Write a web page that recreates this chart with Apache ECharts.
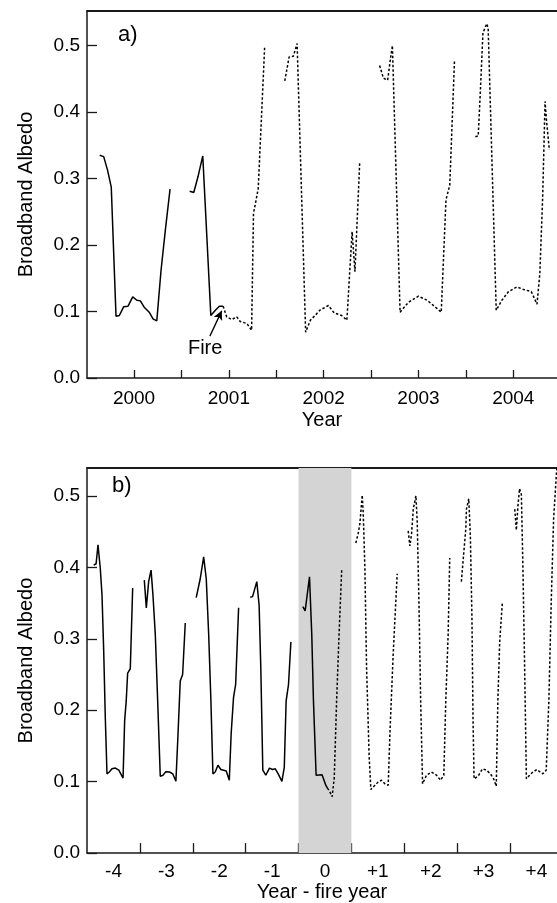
<!DOCTYPE html>
<html>
<head>
<meta charset="utf-8">
<script src="https://cdn.jsdelivr.net/npm/echarts@6/dist/echarts.min.js"></script>
<style>
html,body{margin:0;padding:0;background:#fff;}
#chart{width:557px;height:903px;}
</style>
</head>
<body>
<div id="chart"></div>
<script>
// ---------- Panel a) : albedo vs. year ----------
const aSolidYear = [1999.638,1999.68,1999.72,1999.76,1999.81,1999.845,1999.89,1999.937,1999.986,2000.03,2000.067,2000.11,2000.16,2000.2,2000.24,2000.285,2000.33,2000.38,null,
  2000.587,2000.63,2000.675,2000.725,2000.81,2000.858,2000.90,2000.94];
const aSolidAlbedo = [0.335,0.333,0.313,0.287,0.093,0.094,0.107,0.108,0.122,0.117,0.116,0.106,0.099,0.089,0.086,0.162,0.222,0.284,null,
  0.281,0.279,0.303,0.334,0.094,0.102,0.108,0.108];
const aDottedYear = [2000.94,2000.977,2001.03,2001.083,2001.12,2001.19,2001.24,2001.26,2001.28,2001.31,2001.378,null,
  2001.59,2001.636,2001.68,2001.72,2001.81,2001.86,2001.91,2001.96,2002.05,2002.11,2002.19,2002.245,2002.30,2002.33,2002.38,null,
  2002.59,2002.63,2002.675,2002.71,2002.725,2002.806,2002.895,2003.0,2003.09,2003.175,2003.24,2003.29,2003.33,2003.38,null,
  2003.60,2003.63,2003.65,2003.68,2003.72,2003.735,2003.82,2003.88,2003.95,2004.04,2004.11,2004.19,2004.25,2004.28,2004.31,2004.335,2004.35,2004.38];
const aDottedAlbedo = [0.108,0.092,0.088,0.092,0.085,0.082,0.072,0.248,0.262,0.285,0.499,null,
  0.447,0.483,0.484,0.503,0.069,0.087,0.094,0.102,0.109,0.098,0.094,0.087,0.220,0.160,0.324,null,
  0.470,0.451,0.448,0.486,0.500,0.099,0.114,0.123,0.117,0.107,0.099,0.268,0.290,0.478,null,
  0.363,0.364,0.423,0.519,0.533,0.526,0.102,0.117,0.130,0.137,0.133,0.130,0.111,0.157,0.273,0.416,0.388,0.343];
const aYearTickLabels = [2000,2001,2002,2003,2004];
const aYearTicks = [2000,2000.5,2001,2001.5,2002,2002.5,2003,2003.5,2004];

// ---------- Panel b) : albedo vs. year - fire year ----------
const bSolidYear = [-4.375,-4.33,-4.294,-4.25,-4.218,-4.186,-4.156,-4.124,-4.08,-4.03,-3.966,-3.90,-3.85,-3.82,-3.79,-3.76,-3.733,-3.683,-3.638,null,
  -3.418,-3.38,-3.336,-3.29,-3.254,-3.21,-3.165,-3.116,-3.065,-3.01,-2.94,-2.88,-2.82,-2.78,-2.738,-2.693,-2.643,null,
  -2.436,-2.36,-2.295,-2.246,-2.20,-2.158,-2.12,-2.077,-2.025,-1.97,-1.918,-1.868,-1.81,-1.775,-1.73,-1.69,-1.634,null,
  -1.415,-1.37,-1.29,-1.246,-1.214,-1.176,-1.12,-1.05,-0.99,-0.94,-0.885,-0.815,-0.77,-0.735,-0.69,-0.645,null,
  -0.419,-0.375,-0.293,-0.25,-0.218,-0.168,-0.055,-0.023,0.015,0.046];
const bSolidAlbedo = [0.403,0.405,0.4315,0.398,0.361,0.283,0.19,0.111,0.1135,0.118,0.119,0.116,0.109,0.105,0.185,0.213,0.252,0.258,0.371,null,
  0.382,0.343,0.380,0.396,0.361,0.306,0.213,0.1075,0.109,0.114,0.1135,0.111,0.1005,0.167,0.241,0.25,0.322,null,
  0.3575,0.384,0.4145,0.384,0.306,0.213,0.111,0.1135,0.123,0.117,0.116,0.115,0.102,0.167,0.218,0.236,0.3435,null,
  0.358,0.359,0.38,0.347,0.259,0.116,0.109,0.119,0.117,0.118,0.111,0.1005,0.120,0.213,0.236,0.2955,null,
  0.345,0.339,0.3867,0.306,0.213,0.109,0.1097,0.111,0.095,0.091];
const bDottedYear = [0.046,0.09,0.135,0.175,0.22,0.266,0.316,null,
  0.583,0.627,0.66,0.704,0.723,0.755,0.787,0.836,0.868,0.944,1.007,1.07,1.133,1.196,1.228,1.29,1.366,null,
  1.574,1.606,1.638,1.67,1.72,1.745,1.777,1.81,1.846,1.92,2.015,2.11,2.185,2.248,2.285,2.33,2.36,null,
  2.58,2.626,2.664,2.676,2.72,2.75,2.78,2.80,2.82,2.895,2.98,3.055,3.13,3.19,3.24,3.27,3.305,3.355,null,
  3.59,3.62,3.65,3.68,3.715,3.745,3.777,3.81,3.87,3.935,4.01,4.07,4.12,4.185,4.235,4.28,4.325,4.39];
const bDottedAlbedo = [0.091,0.086,0.079,0.105,0.213,0.306,0.396,null,
  0.434,0.447,0.461,0.501,0.477,0.398,0.259,0.134,0.089,0.095,0.0996,0.102,0.097,0.095,0.167,0.278,0.391,null,
  0.451,0.43,0.447,0.4815,0.50,0.463,0.352,0.213,0.097,0.109,0.1135,0.109,0.102,0.109,0.213,0.306,0.413,null,
  0.38,0.421,0.454,0.4815,0.496,0.444,0.329,0.19,0.104,0.1075,0.118,0.116,0.111,0.104,0.0936,0.213,0.296,0.35,null,
  0.4815,0.452,0.486,0.510,0.502,0.398,0.259,0.104,0.109,0.1135,0.117,0.1135,0.111,0.116,0.213,0.352,0.468,0.545];
const bYearTickLabels = [-4,-3,-2,-1,0,1,2,3,4];
const bYearTicks = [-3.5,-2.5,-1.5,-0.5,0.5,1.5,2.5,3.5];
const bFireYearBand = [-0.5, 0.5];

const albedoTicks = [0,0.1,0.2,0.3,0.4,0.5];
const fireArrowFrom = [2000.80, 0.063];
const fireArrowTo = [2000.925, 0.101];
const fireLabelAt = [2000.75, 0.045];

function pairs(xs, ys){ return xs.map((x,i)=> (x===null||ys[i]===null) ? ['-','-'] : [x, ys[i]]); }

const FONT = 'Liberation Sans, Arial, sans-serif';
const AX = '#1a1a1a';

function xAx(grid, min, max, ticks, labels, fmt, tickLen, labMargin, name, nameGap){
  return {
    type:'value', gridIndex:grid, min:min, max:max, position:'bottom',
    name:name, nameLocation:'middle', nameGap:nameGap,
    nameTextStyle:{fontFamily:FONT, fontSize:20, color:'#000'},
    axisLine:{show:true, onZero:false, lineStyle:{color:AX, width:1.5}},
    axisTick:{show:true, inside:true, length:tickLen, customValues:ticks, lineStyle:{color:AX, width:1.3}},
    axisLabel:{show:true, customValues:labels, formatter:fmt, margin:labMargin, fontFamily:FONT, fontSize:19, color:'#000'},
    splitLine:{show:false}
  };
}
function topAx(grid, min, max){
  return {type:'value', gridIndex:grid, min:min, max:max, position:'top',
    axisLine:{show:true, onZero:false, lineStyle:{color:AX, width:1.8}},
    axisTick:{show:false}, axisLabel:{show:false}, splitLine:{show:false}};
}
function yAx(grid, max, nameGap){
  return {
    type:'value', gridIndex:grid, min:0, max:max,
    name:'Broadband Albedo', nameLocation:'middle', nameGap:nameGap,
    nameTextStyle:{fontFamily:FONT, fontSize:20, color:'#000'},
    axisLine:{show:true, onZero:false, lineStyle:{color:AX, width:1.5}},
    axisTick:{show:true, inside:true, length:10, customValues:albedoTicks, lineStyle:{color:AX, width:1.3}},
    axisLabel:{show:true, customValues:albedoTicks, formatter:v=>v.toFixed(1), margin:7, fontFamily:FONT, fontSize:19, color:'#000'},
    splitLine:{show:false}
  };
}

const solid = {color:'#000', width:1.5, type:'solid'};
const dotted = {color:'#000', width:1.5, type:[2.5,2]};

const option = {
  animation:false,
  backgroundColor:'#fff',
  grid:[
    {left:87, top:11, width:470, height:367},
    {left:87, top:468, width:470, height:389}
  ],
  xAxis:[
    xAx(0, 1999.504, 2004.461, aYearTicks, aYearTickLabels, v=>String(v), 8, 11, 'Year', 32),
    topAx(0, 1999.504, 2004.461),
    xAx(1, -4.502, 4.389, bYearTicks, bYearTickLabels, v=> v>0 ? '+'+v : String(v), 10, 9, 'Year - fire year', 26),
    topAx(1, -4.502, 4.389)
  ],
  yAxis:[ yAx(0, 0.552, 51), yAx(1, 0.539, 51) ],
  graphic:[
    {type:'text', left:118, top:24, style:{text:'a)', fontFamily:FONT, fontSize:22, fill:'#000'}},
    {type:'text', left:112, top:475, style:{text:'b)', fontFamily:FONT, fontSize:22, fill:'#000'}}
  ],
  series:[
    {type:'line', xAxisIndex:0, yAxisIndex:0, data:pairs(aSolidYear,aSolidAlbedo), showSymbol:false, symbol:'none', connectNulls:false, lineStyle:solid, z:5,
      markLine:{silent:true, symbol:['none','arrow'], symbolSize:[7,9], lineStyle:{color:'#000', width:1.3, type:'solid'}, label:{show:false},
        data:[[{coord:fireArrowFrom},{coord:fireArrowTo}]]},
      markPoint:{silent:true, symbol:'circle', symbolSize:0,
        label:{show:true, position:'inside', formatter:'Fire', fontFamily:FONT, fontSize:20, color:'#000'},
        data:[{coord:fireLabelAt}]}
    },
    {type:'line', xAxisIndex:0, yAxisIndex:0, data:pairs(aDottedYear,aDottedAlbedo), showSymbol:false, symbol:'none', connectNulls:false, lineStyle:dotted, z:5},
    {type:'line', xAxisIndex:2, yAxisIndex:1, data:pairs(bSolidYear,bSolidAlbedo), showSymbol:false, symbol:'none', connectNulls:false, lineStyle:solid, z:5,
      markArea:{silent:true, itemStyle:{color:'#d4d4d4'}, data:[[{xAxis:bFireYearBand[0]},{xAxis:bFireYearBand[1]}]]}
    },
    {type:'line', xAxisIndex:2, yAxisIndex:1, data:pairs(bDottedYear,bDottedAlbedo), showSymbol:false, symbol:'none', connectNulls:false, lineStyle:dotted, z:5}
  ]
};

const chart = echarts.init(document.getElementById('chart'), null, {renderer:'canvas'});
chart.setOption(option);
</script>
</body>
</html>
